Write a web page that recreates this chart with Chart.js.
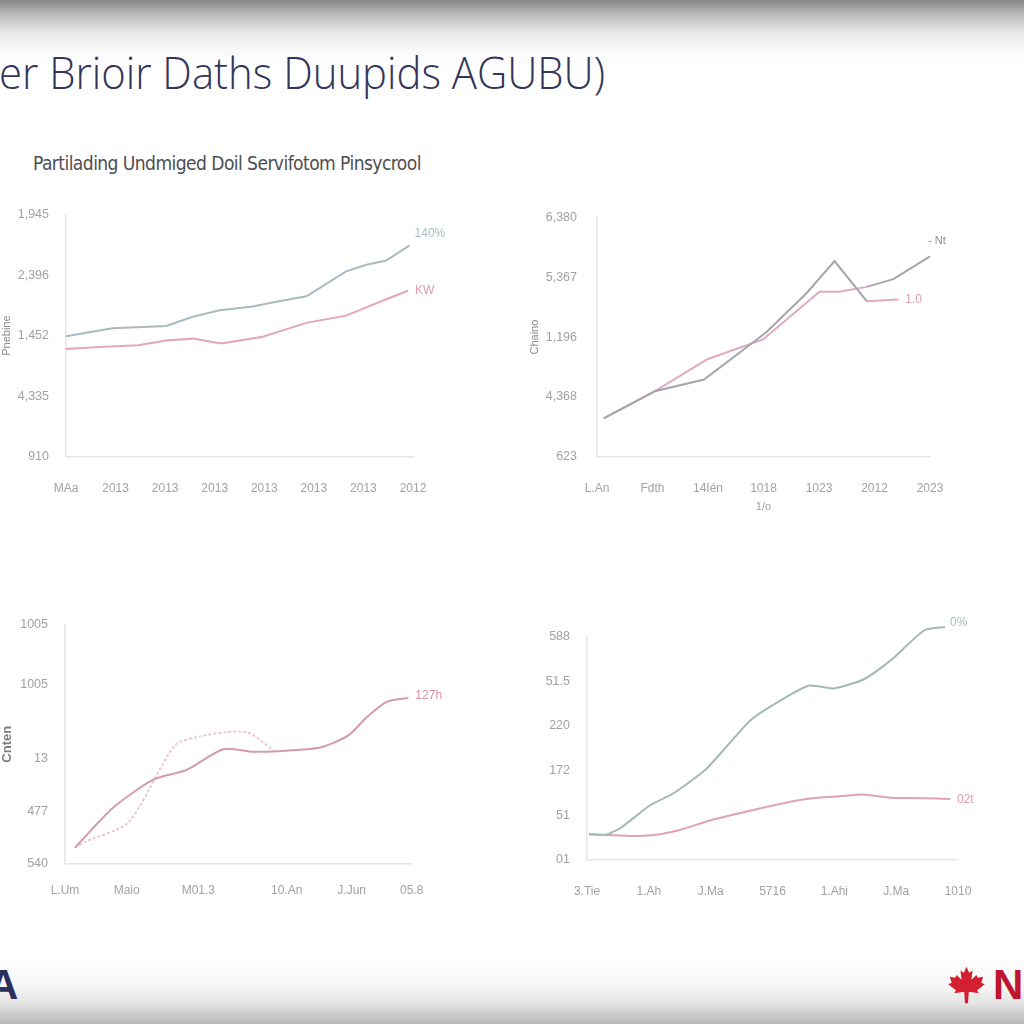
<!DOCTYPE html>
<html><head><meta charset="utf-8">
<script src="https://cdn.jsdelivr.net/npm/chart.js@4.4.1/dist/chart.umd.min.js"></script>
<style>
html,body{margin:0;padding:0;width:1024px;height:1024px;overflow:hidden;background:#fff;position:relative;}
#topfade{position:absolute;left:0;top:0;width:1024px;height:70px;background:linear-gradient(#868686 0px,#b9b9b9 14px,#e6e6e6 32px,#f9f9f9 50px,#fff 70px);}
#botfade{position:absolute;left:0;top:955px;width:1024px;height:69px;background:linear-gradient(#fff 0px,#f7f7f7 30px,#e4e4e4 48px,#cbcbcb 60px,#b8b8b8 69px);}
#title{position:absolute;left:-1px;top:50px;font-family:'Open Sans',sans-serif;font-weight:300;font-size:44px;line-height:44px;color:#33365a;white-space:nowrap;transform-origin:left top;}
#subtitle{position:absolute;left:33px;top:151px;font-family:'Liberation Sans Narrow','DejaVu Sans Condensed',sans-serif;font-size:20px;line-height:24px;color:#4e4e52;white-space:nowrap;transform-origin:left top;letter-spacing:-0.6px;}
#logoA{position:absolute;left:-12px;top:962px;font-family:'Liberation Sans',sans-serif;font-weight:bold;font-size:42px;line-height:46px;color:#2c2f5b;}
#logoN{position:absolute;left:993px;top:962px;font-family:'Liberation Sans',sans-serif;font-weight:bold;font-size:42px;line-height:46px;color:#c0142f;}
#leaf{position:absolute;left:947px;top:966px;width:39px;height:38px;}
canvas{position:absolute;}
</style></head>
<body>
<div id="topfade"></div>
<div id="botfade"></div>
<div id="title">er Brioir Daths Duupids AGUBU)</div>
<div id="subtitle">Partilading Undmiged Doil Servifotom Pinsycrool</div>
<div id="logoA">A</div>
<svg id="leaf" viewBox="0 0 100 100"><path fill="#d41f30" d="M50 2 L57 18 L66 12 L63 36 L76 24 L80 31 L94 28 L89 44 L98 48 L78 64 L82 72 L56 68 L54 98 L46 98 L44 68 L18 72 L22 64 L2 48 L11 44 L6 28 L20 31 L24 24 L37 36 L34 12 L43 18 Z"/></svg>
<div id="logoN">N</div>
<script>
// ---------- Chart 1 (top-left) ----------
const c1XLabels = ["MAa","2013","2013","2013","2013","2013","2013","2012"];
const c1YLabels = ["910","4,335","1,452","2,396","1,945"];
const c1BlueX = [0,0.94,2.02,2.56,3.1,3.77,4.24,4.85,5.65,6.06,6.46,6.93];
const c1BlueY = [1.99,2.12,2.16,2.31,2.42,2.48,2.56,2.65,3.06,3.17,3.24,3.49];
const c1PinkX = [0,0.67,1.45,2.02,2.56,3.13,3.97,4.85,5.65,6.46,6.9];
const c1PinkY = [1.78,1.81,1.84,1.92,1.95,1.87,1.98,2.21,2.33,2.6,2.74];
const c1Names = ["140%","KW"];
const c1YTitle = "Pnebine";

// ---------- Chart 2 (top-right) ----------
const c2XLabels = ["L.An","Fdth","14Ién","1018","1023","2012","2023"];
const c2YLabels = ["623","4,368","1,196","5,367","6,380"];
const c2GrayX = [0.12,1.06,1.93,3.05,3.77,4.28,4.86,5.43];
const c2GrayY = [0.64,1.10,1.29,2.08,2.73,3.27,2.60,2.63];
const c2PinkX = [0.12,1.12,1.99,2.99,4.01,4.37,4.86,5.34,6.0];
const c2PinkY = [0.64,1.14,1.63,1.96,2.76,2.76,2.84,2.97,3.35];
const c2Names = ["1.0","- Nt"];
const c2YTitle = "Chaino";
const c2XTitle = "1/o";

// ---------- Chart 3 (bottom-left) ----------
const c3XTicks = [0,18.5,40,66.5,86,104];
const c3XLabels = ["L.Um","Maio","M01.3","10.An","J.Jun","05.8"];
const c3YTicks = [0,16,32.2,54.7,73];
const c3YLabels = ["540","477","13","1005","1005"];
const c3SolidX = [3,14.5,26.5,36.5,47.5,56.5,63.5,76.5,85,90.5,96.5,103];
const c3SolidY = [5,17.2,25.7,28.7,35,34.2,34.4,35.5,39.2,44.7,49.4,50.6];
const c3DashX = [3,6.5,19,33,40.5,48.5,55,62.5];
const c3DashY = [5,7,12.7,36.2,38.9,40.2,40,34.7];
const c3Names = ["127h"];
const c3YTitle = "Cnten";

// ---------- Chart 4 (bottom-right) ----------
const c4XLabels = ["3.Tie","1.Ah","J.Ma","5716","1.Ahi","J.Ma","1010"];
const c4YLabels = ["01","51","172","220","51.5","588"];
const c4BlueX = [0.03,0.3,0.54,1.02,1.4,1.91,2.26,2.64,3.01,3.58,3.98,4.47,4.92,5.46,5.79];
const c4BlueY = [0.57,0.56,0.71,1.22,1.49,2.01,2.54,3.12,3.47,3.9,3.84,4.04,4.48,5.15,5.22];
const c4PinkX = [0.03,0.43,0.81,1.18,1.51,1.99,2.58,3.12,3.61,4.09,4.47,4.9,5.44,5.87];
const c4PinkY = [0.57,0.55,0.53,0.57,0.67,0.88,1.08,1.25,1.37,1.42,1.46,1.39,1.38,1.36];
const c4Names = ["0%","02t"];

function pts(xs, ys){ return xs.map((x,i)=>({x:x, y:ys[i]})); }

// fit title widths
(function(){
  const t=document.getElementById('title'); t.style.transform='scaleX('+(606/t.scrollWidth)+')';
  const s=document.getElementById('subtitle'); s.style.transform='scaleX('+(388/s.scrollWidth)+')';
})();

const FONT = "'Liberation Sans', Arial, sans-serif";
const TICKC = '#a2a2a6';
const AXISC = '#e6e6e8';

const endLabelPlugin = {
  id:'endLabels',
  afterDatasetsDraw(chart){
    const items = chart.config._endItems || [];
    const ctx = chart.ctx;
    items.forEach(it=>{
      const meta = chart.getDatasetMeta(it.ds);
      const p = meta.data[meta.data.length-1];
      ctx.save();
      ctx.font = (it.size||12)+'px '+FONT;
      ctx.fillStyle = it.color;
      ctx.textAlign='left'; ctx.textBaseline='middle';
      ctx.fillText(it.text, p.x+it.dx, p.y+it.dy);
      ctx.restore();
    });
  }
};

function makeChart(box, area, cfg){
  const c = document.createElement('canvas');
  c.width=box.w; c.height=box.h;
  c.style.left=box.x+'px'; c.style.top=box.y+'px';
  c.style.width=box.w+'px'; c.style.height=box.h+'px';
  document.body.appendChild(c);
  const padBottom = cfg.padBottom||0;
  const padTop = area.top-box.y-(cfg.topAdj||0), padRight = box.x+box.w-area.right;
  const yW = area.left-box.x, xH = box.y+box.h-padBottom-area.bottom;
  const xScale = {
    type:'linear', min:cfg.xMin, max:cfg.xMax,
    afterFit:s=>{s.height=xH;},
    grid:{display:false, drawTicks:false},
    border:{display:true,color:AXISC,width:1.5},
    ticks:{autoSkip:false,maxRotation:0,color:TICKC,font:{family:FONT,size:12},padding:cfg.xPad,
      callback:(v,i)=>cfg.xLabels[i]},
    title: cfg.xTitle ? {display:true,text:cfg.xTitle,color:'#a0a0a4',font:{family:FONT,size:11},padding:0} : {display:false}
  };
  const yScale = {
    type:'linear', min:cfg.yMin, max:cfg.yMax,
    afterFit:s=>{s.width=yW;},
    grid:{display:false, drawTicks:false},
    border:{display:true,color:AXISC,width:1.5},
    ticks:{autoSkip:false,color:TICKC,font:{family:FONT,size:12.5},padding:cfg.yPad,
      callback:(v,i)=>cfg.yLabels[i]},
    title: cfg.yTitle ? {display:true,text:cfg.yTitle,color:cfg.yTitleColor||'#8c8c90',font:{family:FONT,size:cfg.yTitleSize||11,weight:cfg.yTitleWeight||'normal'},padding:0} : {display:false}
  };
  if(cfg.xTicks){ xScale.afterBuildTicks = s=>{ s.ticks = cfg.xTicks.map(v=>({value:v})); }; }
  else { xScale.ticks.stepSize=1; }
  if(cfg.yTicks){ yScale.afterBuildTicks = s=>{ s.ticks = cfg.yTicks.map(v=>({value:v})); }; }
  else { yScale.ticks.stepSize=1; }
  const config = {
    type:'line',
    data:{datasets:cfg.datasets.map(d=>Object.assign({pointRadius:0,borderWidth:2,fill:false,clip:false,tension:cfg.tension||0},d))},
    options:{
      responsive:false, animation:false, devicePixelRatio:1,
      layout:{padding:{top:padTop,right:padRight,bottom:padBottom,left:0}},
      plugins:{legend:{display:false},tooltip:{enabled:false}},
      scales:{x:xScale,y:yScale}
    },
    plugins:[endLabelPlugin]
  };
  const ch = new Chart(c, config);
  ch.config._endItems = cfg.endItems;
  ch.draw();
  return ch;
}

// Chart 1
makeChart({x:0,y:190,w:470,h:330},{left:66,top:211.7,right:413,bottom:456.7},{
  xMin:0,xMax:7,yMin:0,yMax:4,xLabels:c1XLabels,yLabels:c1YLabels,xPad:25,yPad:17,yTitle:c1YTitle,topAdj:1.5,
  datasets:[
    {data:pts(c1BlueX,c1BlueY),borderColor:'#a9b9c1'},
    {data:pts(c1PinkX,c1PinkY),borderColor:'#e3a7ba'}
  ],
  endItems:[{ds:0,text:c1Names[0],color:'#a6bfcc',dx:5,dy:-12},{ds:1,text:c1Names[1],color:'#e09ab1',dx:7,dy:0}]
});

// Chart 2
const C2GRAY='#a5a4b0', C2PINK='#dfaabd';
makeChart({x:528,y:190,w:480,h:330},{left:597,top:211.7,right:930,bottom:456.7},{
  xMin:0,xMax:6,yMin:0,yMax:4,xLabels:c2XLabels,yLabels:c2YLabels,xPad:25,yPad:20,yTitle:c2YTitle,xTitle:c2XTitle,padBottom:6,topAdj:4.5,
  datasets:[
    {data:pts(c2GrayX,c2GrayY),borderColor:C2GRAY,segment:{borderColor:ctx=>ctx.p0DataIndex>=6?C2PINK:C2GRAY}},
    {data:pts(c2PinkX,c2PinkY),borderColor:C2PINK,segment:{borderColor:ctx=>ctx.p0DataIndex>=6?C2GRAY:C2PINK}}
  ],
  endItems:[{ds:0,text:c2Names[0],color:'#dd9db2',dx:7,dy:0},{ds:1,text:c2Names[1],color:'#8e8e98',dx:-2,dy:-15,size:11}]
});

// Chart 3
makeChart({x:0,y:600,w:470,h:310},{left:65,top:620.7,right:411.7,bottom:864},{
  xMin:0,xMax:104,yMin:0,yMax:73,xTicks:c3XTicks,yTicks:c3YTicks,xLabels:c3XLabels,yLabels:c3YLabels,xPad:19,yPad:17,
  yTitle:c3YTitle,yTitleColor:'#7d7d82',yTitleSize:13,yTitleWeight:'bold',tension:0.25,
  datasets:[
    {data:pts(c3SolidX,c3SolidY),borderColor:'#d39bb0'},
    {data:pts(c3DashX,c3DashY),borderColor:'#ebc8d3',borderDash:[3,2]}
  ],
  endItems:[{ds:0,text:c3Names[0],color:'#dc8fa9',dx:7,dy:-2}]
});

// Chart 4
makeChart({x:530,y:610,w:494,h:300},{left:587,top:636.7,right:958,bottom:859.7},{
  xMin:0,xMax:6,yMin:0,yMax:5,xLabels:c4XLabels,yLabels:c4YLabels,xPad:25,yPad:17,tension:0.2,
  datasets:[
    {data:pts(c4BlueX,c4BlueY),borderColor:'#a6b8b5'},
    {data:pts(c4PinkX,c4PinkY),borderColor:'#dea3b6'}
  ],
  endItems:[{ds:0,text:c4Names[0],color:'#a8bcbd',dx:5,dy:-4},{ds:1,text:c4Names[1],color:'#de9ab0',dx:7,dy:1}]
});
</script>
</body></html>
